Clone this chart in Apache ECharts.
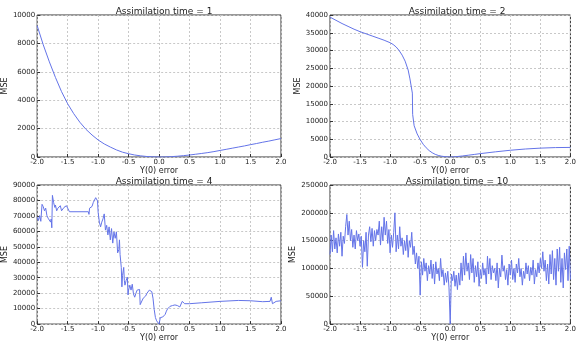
<!DOCTYPE html>
<html>
<head>
<meta charset="utf-8">
<script src="https://cdn.jsdelivr.net/npm/echarts@6/dist/echarts.min.js"></script>
<style>
  html, body { margin: 0; padding: 0; background: #fff; }
  #chart { width: 579px; height: 343px; }
</style>
</head>
<body>
<div id="chart"></div>
<script>
  // panel titles
  const titles = ['Assimilation time = 1', 'Assimilation time = 2', 'Assimilation time = 4', 'Assimilation time = 10']
  const yMax = [10000, 40000, 90000, 250000]
  const yStep = [2000, 5000, 10000, 50000]

  // time = 1, sampled every 0.1 from -2.0
  const mse1 = [9250, 7900, 6700, 5600, 4600, 3750, 3050, 2450, 1950, 1550, 1200, 920, 700, 500, 340, 230, 140, 80, 35, 10, 0,
    5, 25, 55, 95, 140, 195, 250, 310, 380, 460, 540, 620, 700, 780, 870, 950, 1040, 1120, 1210, 1300]

  // time = 2, [x, mse]
  const mse2 = [[-2.0, 39400], [-1.9, 38500], [-1.8, 37600], [-1.7, 36800], [-1.6, 36000], [-1.5, 35300], [-1.4, 34700],
    [-1.3, 34100], [-1.2, 33500], [-1.1, 32900], [-1.0, 32200], [-0.95, 31700], [-0.9, 31000], [-0.85, 30000], [-0.8, 28700],
    [-0.75, 27000], [-0.7, 24500], [-0.67, 22000], [-0.65, 20000], [-0.63, 18000], [-0.625, 12000], [-0.6, 8800],
    [-0.55, 6500], [-0.5, 4900], [-0.45, 3600], [-0.4, 2600], [-0.35, 1800], [-0.3, 1200], [-0.25, 750], [-0.2, 450],
    [-0.15, 250], [-0.1, 120], [-0.05, 40], [0.0, 0], [0.05, 30], [0.1, 100], [0.2, 280], [0.3, 500], [0.4, 720], [0.5, 950],
    [0.75, 1450], [1.0, 1900], [1.25, 2250], [1.5, 2500], [1.75, 2650], [2.0, 2700]]

  // time = 4, [x, mse]
  const mse4 = [[-2.00, 69200], [-1.98, 67000], [-1.96, 70200], [-1.94, 66500], [-1.92, 77500], [-1.90, 76000], [-1.88, 73300],
    [-1.86, 75000], [-1.84, 70200], [-1.82, 68500], [-1.80, 69000], [-1.78, 66000], [-1.77, 68000], [-1.76, 62300],
    [-1.75, 83300], [-1.73, 78600], [-1.71, 75500], [-1.70, 77000], [-1.68, 73300], [-1.66, 75000], [-1.64, 74000],
    [-1.62, 76600], [-1.60, 73300], [-1.56, 75500], [-1.52, 76600], [-1.50, 75500], [-1.47, 72700], [-1.16, 72700],
    [-1.15, 71000], [-1.14, 75000], [-1.12, 74000], [-1.10, 76100], [-1.08, 78600], [-1.06, 79700], [-1.04, 81800],
    [-1.02, 82800], [-1.01, 79700], [-1.00, 72400], [-0.98, 66000], [-0.96, 62900], [-0.94, 66000], [-0.92, 68100],
    [-0.90, 71300], [-0.89, 72400], [-0.88, 60800], [-0.86, 63900], [-0.84, 57700], [-0.82, 62900], [-0.80, 54500],
    [-0.78, 61800], [-0.76, 52400], [-0.74, 59700], [-0.72, 55500], [-0.70, 59700], [-0.68, 46100], [-0.66, 48200],
    [-0.65, 54500], [-0.64, 45000], [-0.62, 36700], [-0.61, 24100], [-0.60, 31400], [-0.58, 36700], [-0.57, 28300],
    [-0.56, 25200], [-0.54, 28300], [-0.52, 30400], [-0.51, 18900], [-0.50, 22000], [-0.48, 25200], [-0.46, 22000],
    [-0.44, 25800], [-0.42, 19500], [-0.40, 17400], [-0.38, 19900], [-0.36, 22000], [-0.34, 23000], [-0.32, 22400],
    [-0.31, 12600], [-0.30, 13600], [-0.28, 12000], [-0.26, 16800], [-0.24, 17400], [-0.22, 18200], [-0.20, 19900],
    [-0.18, 21000], [-0.16, 22000], [-0.14, 22400], [-0.12, 21000], [-0.10, 16800], [-0.08, 9400], [-0.06, 4200],
    [-0.04, 2100], [-0.02, 1000], [0.00, 0], [0.02, 4200], [0.04, 4800], [0.06, 4600], [0.08, 5200], [0.10, 6300],
    [0.12, 8400], [0.14, 9900], [0.16, 10900], [0.18, 11500], [0.22, 12000], [0.26, 12400], [0.30, 12000], [0.34, 11100],
    [0.37, 9900], [0.38, 14700], [0.40, 13600], [0.42, 13200], [0.50, 13200], [0.70, 13800], [1.00, 14700], [1.30, 15300],
    [1.50, 15100], [1.70, 14500], [1.82, 14700], [1.84, 17400], [1.86, 13200], [1.88, 13600], [1.92, 14700], [2.00, 15100]]

  // time = 10, sampled every 0.02 from -2.0
  const mse10 = [125000, 160000, 130000, 168000, 135000, 155000, 128000, 162000, 140000, 165000,
    122000, 158000, 145000, 175000, 197000, 160000, 185000, 150000, 170000, 138000,
    160000, 135000, 168000, 150000, 162000, 140000, 158000, 102000, 150000, 130000,
    165000, 104000, 160000, 175000, 148000, 172000, 140000, 168000, 150000, 170000,
    160000, 185000, 142000, 175000, 150000, 192000, 160000, 185000, 145000, 170000,
    128000, 160000, 138000, 165000, 200000, 130000, 160000, 135000, 175000, 140000,
    155000, 125000, 150000, 132000, 160000, 120000, 150000, 138000, 165000, 125000,
    140000, 108000, 128000, 100000, 122000, 52000, 112000, 88000, 118000, 95000,
    110000, 78000, 105000, 90000, 115000, 82000, 108000, 72000, 112000, 90000,
    100000, 78000, 118000, 85000, 98000, 70000, 92000, 75000, 95000, 65000,
    0,
    90000, 78000, 95000, 68000, 88000, 62000, 92000, 70000, 110000, 78000,
    122000, 88000, 128000, 95000, 110000, 80000, 125000, 92000, 118000, 75000,
    105000, 85000, 112000, 68000, 98000, 82000, 110000, 88000, 100000, 72000,
    122000, 90000, 118000, 80000, 105000, 92000, 100000, 78000, 110000, 65000,
    100000, 85000, 124000, 95000, 105000, 80000, 98000, 70000, 108000, 88000,
    115000, 80000, 100000, 75000, 108000, 92000, 118000, 85000, 100000, 70000,
    95000, 82000, 110000, 90000, 105000, 78000, 102000, 88000, 115000, 72000,
    98000, 85000, 110000, 92000, 118000, 100000, 130000, 95000, 115000, 78000,
    108000, 72000, 125000, 90000, 132000, 80000, 118000, 70000, 135000, 95000,
    138000, 75000, 118000, 65000, 128000, 98000, 135000, 78000, 140000, 80000]

  const series1 = mse1.map((v, i) => [-2 + i * 0.1, v])
  const series10 = mse10.map((v, i) => [-2 + i * 0.02, v])
  const allData = [series1, mse2, mse4, series10]

  const grids = [
    {left: 37, top: 15, width: 244, height: 142},
    {left: 330, top: 15, width: 244, height: 142},
    {left: 37, top: 185, width: 244, height: 143},
    {left: 330, top: 185, width: 244, height: 143}
  ]
  const nameGaps = [24, 25, 24, 29]
  const font = 'DejaVu Sans'
  const lineColor = '#6474e8'

  let chart = echarts.init(document.getElementById('chart'))
  chart.setOption({
    animation: false,
    backgroundColor: '#fff',
    title: titles.map((t, i) => ({
      text: t,
      left: grids[i].left + grids[i].width / 2,
      top: grids[i].top - 13,
      textAlign: 'center',
      textStyle: {fontFamily: font, fontSize: 9, fontWeight: 'normal', color: '#222'}
    })),
    grid: grids.map(g => Object.assign({show: true, borderColor: '#333', borderWidth: 1, backgroundColor: '#fff'}, g)),
    xAxis: grids.map((g, i) => ({
      gridIndex: i,
      type: 'value',
      min: -2,
      max: 2,
      interval: 0.5,
      name: 'Y(0) error',
      nameLocation: 'middle',
      nameGap: 7,
      nameTextStyle: {fontFamily: font, fontSize: 8, color: '#222'},
      axisLine: {show: false, onZero: false},
      axisTick: {show: true, inside: true, length: 3, lineStyle: {color: '#333'}},
      axisLabel: {fontFamily: font, fontSize: 7, color: '#222', margin: 2, formatter: v => v.toFixed(1)},
      splitLine: {show: true, lineStyle: {color: '#c8c8c8', type: [2, 2], width: 1}}
    })),
    yAxis: grids.map((g, i) => ({
      gridIndex: i,
      type: 'value',
      min: 0,
      max: yMax[i],
      interval: yStep[i],
      name: 'MSE',
      nameLocation: 'middle',
      nameGap: nameGaps[i],
      nameTextStyle: {fontFamily: font, fontSize: 8, color: '#222'},
      axisLine: {show: false, onZero: false},
      axisTick: {show: true, inside: true, length: 3, lineStyle: {color: '#333'}},
      axisLabel: {fontFamily: font, fontSize: 7, color: '#222', margin: 2, formatter: v => String(v)},
      splitLine: {show: true, lineStyle: {color: '#c8c8c8', type: [2, 2], width: 1}}
    })),
    series: allData.map((d, i) => ({
      type: 'line',
      xAxisIndex: i,
      yAxisIndex: i,
      data: d,
      showSymbol: false,
      lineStyle: {color: lineColor, width: 1},
      z: 3
    }))
  })
</script>
</body>
</html>
